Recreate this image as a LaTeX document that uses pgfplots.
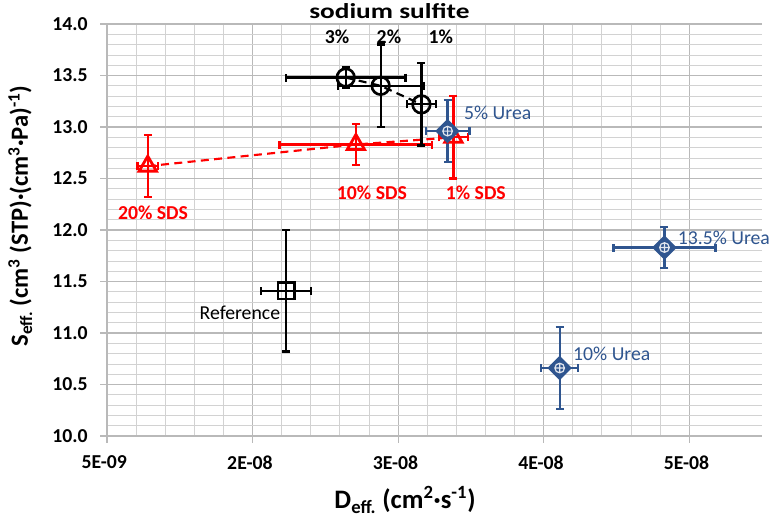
\documentclass[border=0pt]{standalone}
\usepackage{pgfplots}
\pgfplotsset{compat=1.18}
\usepackage{graphicx}
\usepackage{fontspec}
\setmainfont{Carlito}
\definecolor{ureablue}{RGB}{47,85,143}
\definecolor{majgrid}{RGB}{185,185,185}
\definecolor{mingrid}{RGB}{210,210,210}
\newcommand{\lbl}{\fontsize{14.8}{17}\selectfont}
\newcommand{\ttl}{\fontsize{20}{24}\selectfont\bfseries}
\begin{document}
\begin{tikzpicture}
\path[use as bounding box] (-80.25pt,-62.25pt) rectangle (500.25pt,327pt);
\begin{axis}[
  at={(0,0)}, anchor=south west,
  scale only axis, width=491.25pt, height=309pt,
  xmin=0.5e-8, xmax=5.0e-8, ymin=10, ymax=14,
  xtick={0.5e-8,1.5e-8,2.5e-8,3.5e-8,4.5e-8},
  xticklabels={5E-09,2E-08,3E-08,4E-08,5E-08},
  scaled x ticks=false,
  minor x tick num=4,
  ytick={10,10.5,11,11.5,12,12.5,13,13.5,14},
  minor y tick num=4,
  /pgf/number format/assume math mode=true,
  ticklabel style={font=\lbl\bfseries},
  xticklabel style={yshift=-6pt, xshift=-2pt},
  yticklabel style={xshift=-6pt, /pgf/number format/.cd, fixed, fixed zerofill, precision=1},
  axis x line*=bottom, axis y line*=left,
  axis line style={majgrid, line width=0.8pt, -},
  tick align=outside, major tick length=5pt, minor tick length=0pt,
  tick style={majgrid, line width=0.8pt},
  grid=both,
  major grid style={majgrid, line width=0.8pt},
  minor grid style={mingrid, line width=0.6pt},
  clip=false,
  xlabel={D\textsubscript{eff.} (cm\textsuperscript{2}·s\textsuperscript{-1})},
  ylabel={S\textsubscript{eff.} (cm\textsuperscript{3} (STP)·(cm\textsuperscript{3}·Pa)\textsuperscript{-1})},
  xlabel style={font=\ttl, at={(axis description cs:0.455,-0.155)}, anchor=center},
  ylabel style={font=\fontsize{18.5}{22}\selectfont\bfseries, at={(axis description cs:-0.1324,0.534)}, anchor=center},
  error bars/error bar style={solid, line width=1.7pt},
  error bars/error mark options={rotate=90, mark size=3pt, line width=1.7pt, solid},
]
% SDS
\addplot[red, line width=1.6pt, dash pattern=on 6pt off 4pt, mark=triangle, mark size=7.5pt,
  mark options={solid, line width=2.1pt},
  error bars/.cd, x dir=both, x explicit, y dir=both, y explicit]
  coordinates {(0.78e-8,12.62) +- (0.07e-8,0.30)
               (2.21e-8,12.83) +- (0.525e-8,0.20)
               (2.88e-8,12.90) +- (0.10e-8,0.40)};
% sodium sulfite
\addplot[black, line width=1.6pt, dash pattern=on 6pt off 4pt, mark=o, mark size=6.6pt,
  mark options={solid, line width=2pt},
  error bars/.cd, x dir=both, x explicit, y dir=both, y explicit]
  coordinates {(2.14e-8,13.48) +- (0.41e-8,0.10)
               (2.38e-8,13.40) +- (0.295e-8,0.40)
               (2.66e-8,13.22) +- (0.10e-8,0.40)};
% Reference
\addplot[black, only marks, mark=square, mark size=6.2pt,
  mark options={solid, line width=1.8pt},
  error bars/.cd, x dir=both, x explicit, y dir=both, y explicit]
  coordinates {(1.73e-8,11.41) +- (0.17e-8,0.59)};
% Urea
\addplot[ureablue, only marks, mark=square*, mark size=6pt,
  mark options={solid, rotate=45, line width=1pt},
  error bars/.cd, x dir=both, x explicit, y dir=both, y explicit]
  coordinates {(2.84e-8,12.96) +- (0.15e-8,0.30)
               (3.61e-8,10.66) +- (0.127e-8,0.40)
               (4.33e-8,11.83) +- (0.35e-8,0.20)};
\addplot[white!85!ureablue, only marks, mark=oplus, mark size=3.6pt, mark options={line width=0.9pt}]
  coordinates {(2.84e-8,12.96) (3.61e-8,10.66) (4.33e-8,11.83)};
% labels
\node[font=\fontsize{16}{19}\selectfont\bfseries] at (axis cs:2.44e-8,14.13) {\scalebox{1.28}[1]{sodium sulfite}};
\node[font=\lbl\bfseries] at (axis cs:2.08e-8,13.874) {3\%};
\node[font=\lbl\bfseries] at (axis cs:2.437e-8,13.874) {2\%};
\node[font=\lbl\bfseries] at (axis cs:2.794e-8,13.874) {1\%};
\node[font=\lbl, text=ureablue, anchor=west, inner sep=0pt] at (axis cs:2.952e-8,13.136) {5\% Urea};
\node[font=\lbl\bfseries, text=red] at (axis cs:2.32e-8,12.36) {10\% SDS};
\node[font=\lbl\bfseries, text=red] at (axis cs:3.034e-8,12.36) {1\% SDS};
\node[font=\lbl\bfseries, text=red] at (axis cs:0.816e-8,12.165) {20\% SDS};
\node[font=\lbl] at (axis cs:1.413e-8,11.194) {Reference};
\node[font=\lbl, text=ureablue] at (axis cs:3.968e-8,10.796) {10\% Urea};
\node[font=\lbl, text=ureablue] at (axis cs:4.738e-8,11.922) {13.5\% Urea};
\end{axis}
\end{tikzpicture}
\end{document}
